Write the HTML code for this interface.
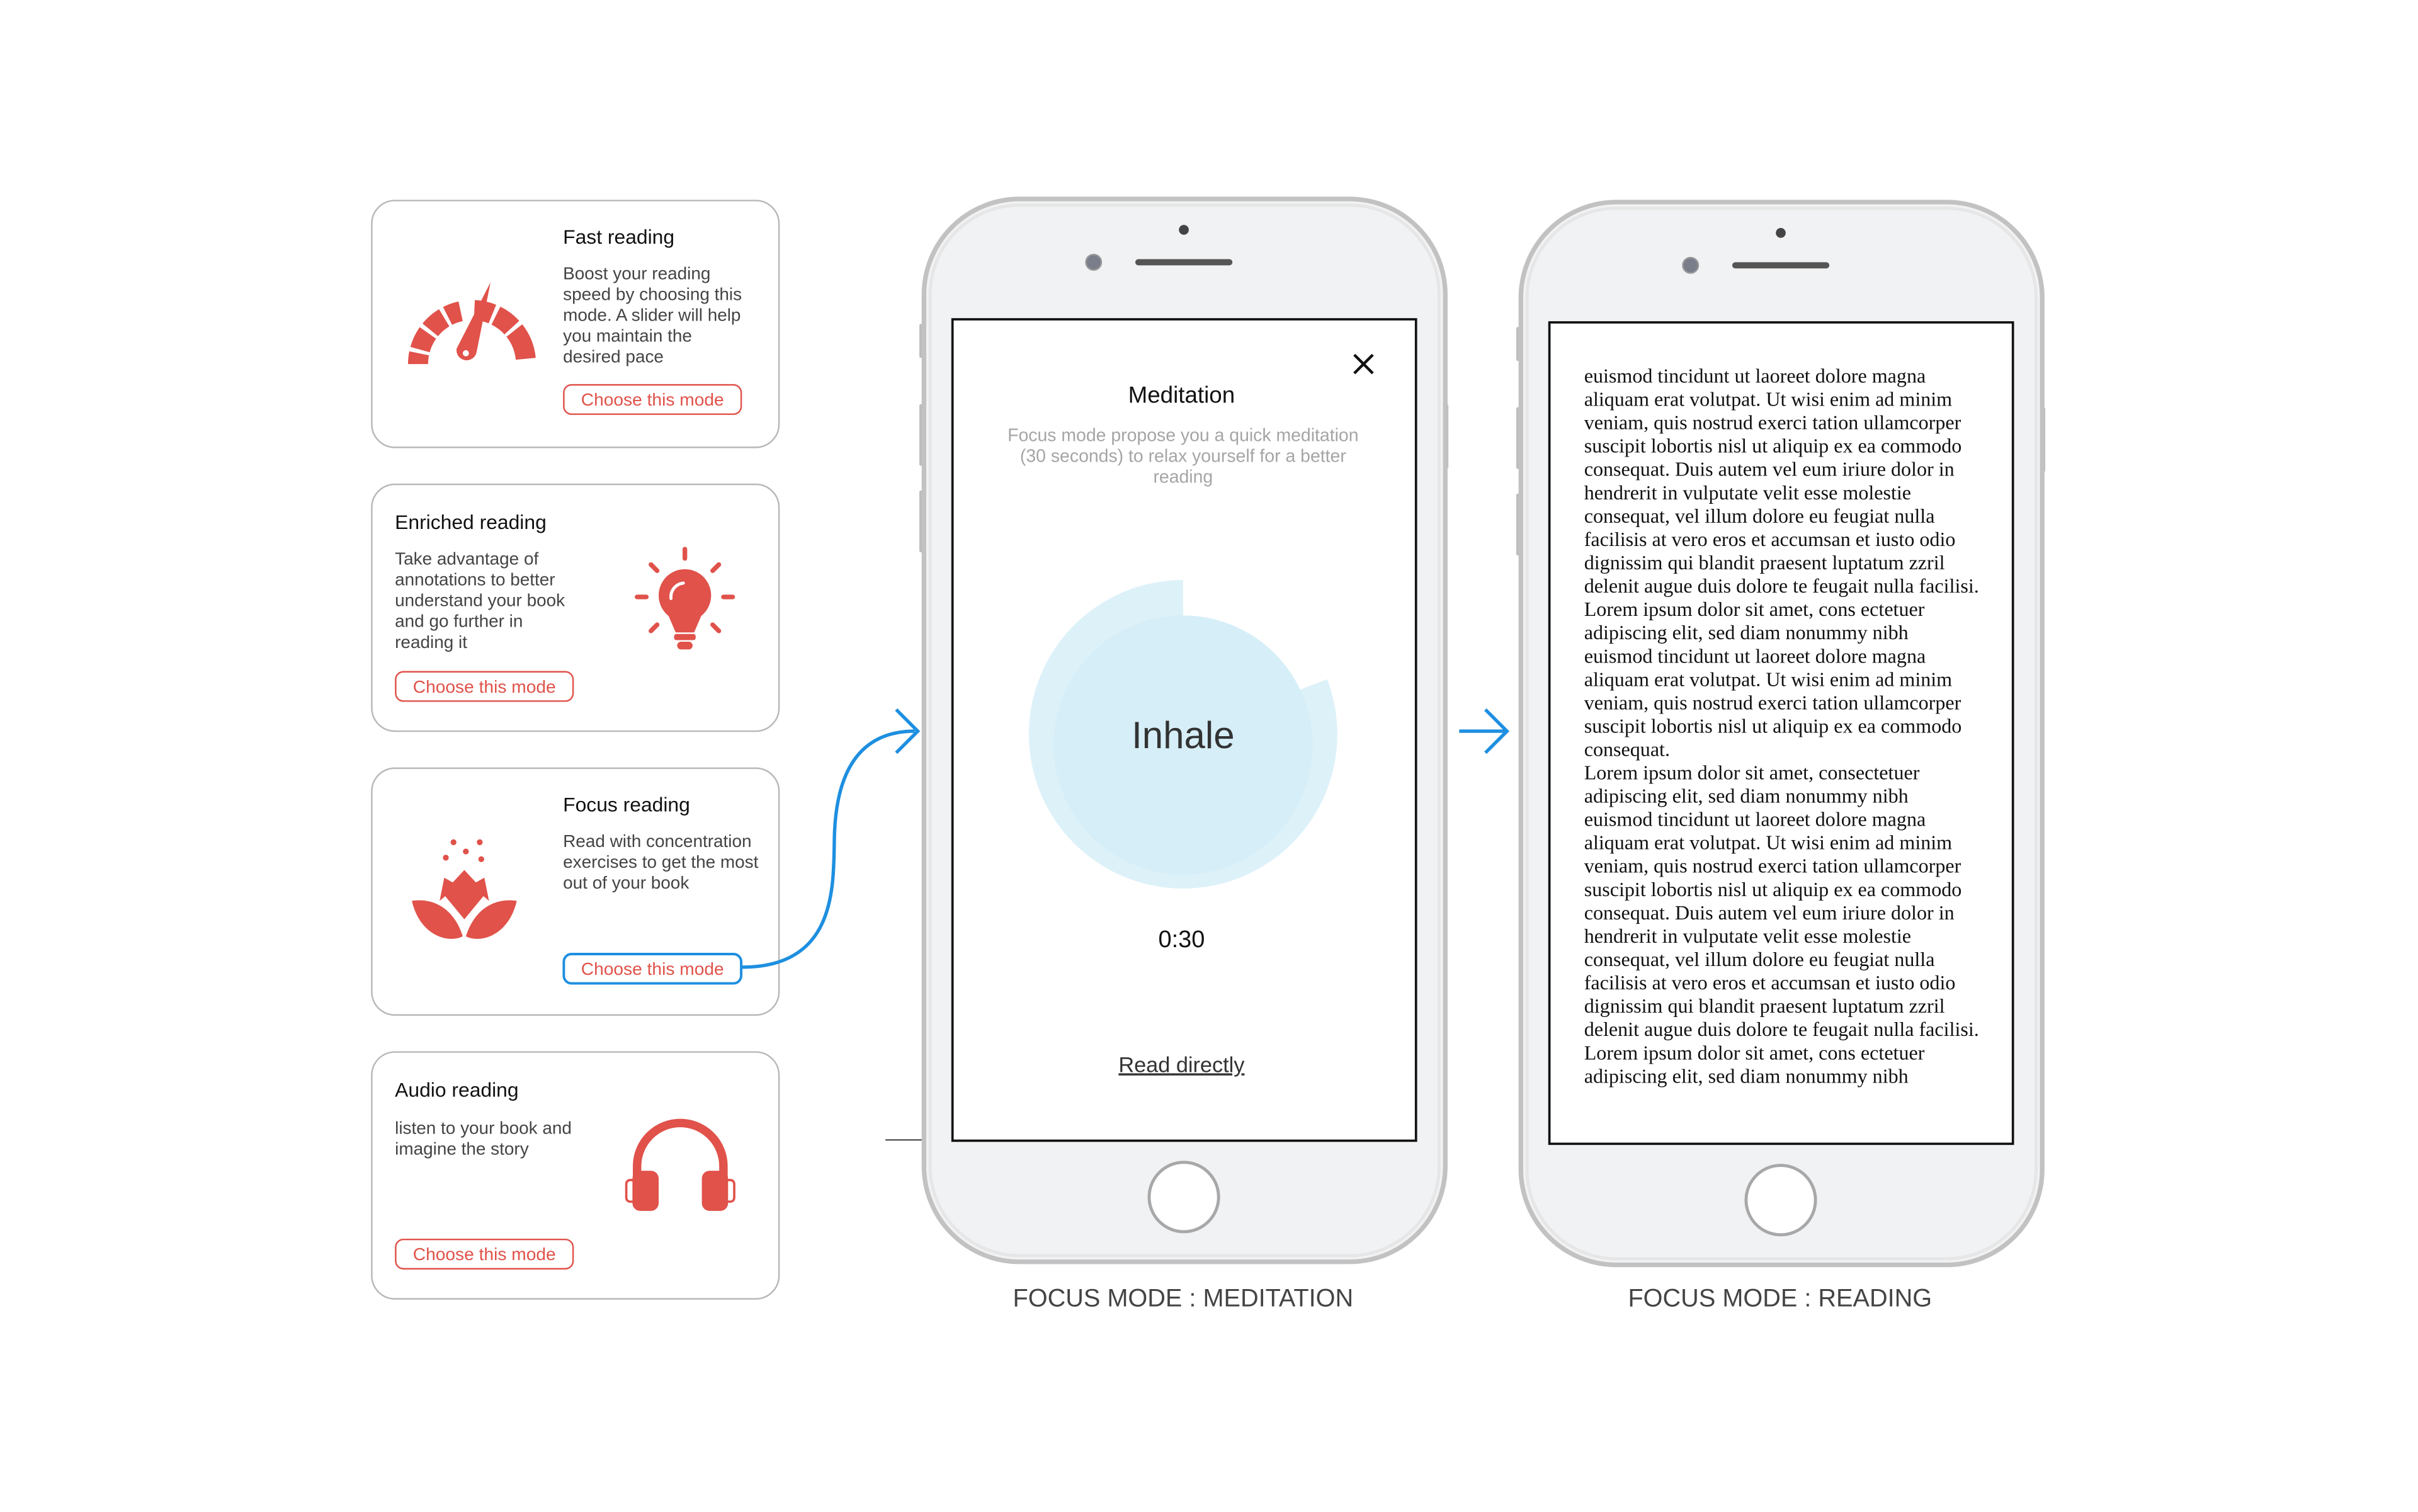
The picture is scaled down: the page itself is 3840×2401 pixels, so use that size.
<!DOCTYPE html>
<html><head><meta charset="utf-8"><style>
html,body{margin:0;padding:0;background:#fff;width:3840px;height:2401px;overflow:hidden}
svg{display:block}
.s{font-family:"Liberation Sans","DejaVu Sans",sans-serif}
.r{font-family:"Liberation Serif","DejaVu Serif",serif}
</style></head><body>
<svg width="3840" height="2401" viewBox="0 0 1567.6 980.2" xmlns="http://www.w3.org/2000/svg">
<rect width="1567.6" height="980.2" fill="#fff"/>
<g fill="#fff" stroke="#b8b8b8" stroke-width="1">
<rect x="241" y="130" width="264" height="160" rx="15"/>
<rect x="241" y="314" width="264" height="160" rx="15"/>
<rect x="241" y="498" width="264" height="160" rx="15"/>
<rect x="241" y="682" width="264" height="160" rx="15"/>
</g>
<g class="s">
<text x="365" y="158" font-size="13" fill="#111">Fast reading</text>
<g font-size="11.4" fill="#444">
<text x="365" y="181">Boost your reading</text>
<text x="365" y="194.5">speed by choosing this</text>
<text x="365" y="208">mode. A slider will help</text>
<text x="365" y="221.5">you maintain the</text>
<text x="365" y="235">desired pace</text></g>
<text x="256" y="343" font-size="13" fill="#111">Enriched reading</text>
<g font-size="11.4" fill="#444">
<text x="256" y="366">Take advantage of</text>
<text x="256" y="379.5">annotations to better</text>
<text x="256" y="393">understand your book</text>
<text x="256" y="406.5">and go further in</text>
<text x="256" y="420">reading it</text></g>
<text x="365" y="526" font-size="13" fill="#111">Focus reading</text>
<g font-size="11.4" fill="#444">
<text x="365" y="549">Read with concentration</text>
<text x="365" y="562.5">exercises to get the most</text>
<text x="365" y="576">out of your book</text></g>
<text x="256" y="711" font-size="13" fill="#111">Audio reading</text>
<g font-size="11.4" fill="#444">
<text x="256" y="735">listen to your book and</text>
<text x="256" y="748.5">imagine the story</text></g>
<g fill="none" stroke-width="1">
<rect x="365.5" y="249.5" width="115" height="19" rx="5" stroke="#e0524a"/>
<rect x="256.5" y="435.5" width="115" height="19" rx="5" stroke="#e0524a"/>
<rect x="365.5" y="618.5" width="115" height="19" rx="5" stroke="#1e8fe0" stroke-width="1.6"/>
<rect x="256.5" y="803.5" width="115" height="19" rx="5" stroke="#e0524a"/>
</g>
<g font-size="11.5" fill="#e0524a" text-anchor="middle">
<text x="423" y="263">Choose this mode</text>
<text x="314" y="449">Choose this mode</text>
<text x="423" y="632">Choose this mode</text>
<text x="314" y="817">Choose this mode</text></g>
</g>
<!-- gauge -->
<g fill="#e0524a">
<path d="M271 236 A35 35 0 0 1 341 236" fill="none" stroke="#e0524a" stroke-width="13" stroke-dasharray="7 2.5 12 2.5 12 2.5 9 9 12 2.5 13 2.5 20"/>
<path d="M318 183 L309 228 A6.5 6.5 0 1 1 296 226 Z"/>
<circle cx="302" cy="229" r="2" fill="#fff"/>
</g>
<!-- bulb -->
<g fill="#e0524a" stroke="#e0524a" stroke-linecap="round">
<circle cx="444" cy="386" r="17" stroke="none"/>
<path d="M432 396 L438 410 L450 410 L456 396 Z" stroke="none"/>
<rect x="437" y="411" width="14" height="4" rx="1.5" stroke="none"/>
<rect x="439" y="416" width="10" height="5" rx="2.5" stroke="none"/>
<g stroke-width="3" fill="none">
<line x1="444" y1="356" x2="444" y2="362"/>
<line x1="422" y1="366" x2="426" y2="370"/><line x1="466" y1="366" x2="462" y2="370"/>
<line x1="413" y1="387" x2="419" y2="387"/><line x1="469" y1="387" x2="475" y2="387"/>
<line x1="422" y1="409" x2="426" y2="405"/><line x1="466" y1="409" x2="462" y2="405"/>
</g>
<path d="M435 388 A9 9 0 0 1 443 378" stroke="#fff" stroke-width="2" fill="none"/>
</g>
<!-- lotus -->
<g fill="#e0524a">
<circle cx="294" cy="546" r="1.9"/><circle cx="311" cy="546" r="1.9"/><circle cx="302" cy="552" r="1.9"/>
<circle cx="289" cy="556" r="1.9"/><circle cx="312" cy="557" r="1.9"/>
<path d="M287 579 L301 564 L315 579 L301 596 Z"/>
<path d="M285 584 L288 569 L297 574 Z"/><path d="M317 584 L314 569 L305 574 Z"/>
<path d="M267 584 C280 582 294 588 300 607 C290 612 272 606 267 584 Z"/>
<path d="M335 584 C322 582 308 588 302 607 C312 612 330 606 335 584 Z"/>
</g>
<!-- headphones -->
<g fill="#e0524a">
<path d="M413 768 L413 756 A28 28 0 0 1 469 756 L469 768" fill="none" stroke="#e0524a" stroke-width="5.5"/>
<rect x="410" y="759" width="17" height="26" rx="5"/>
<rect x="455" y="759" width="17" height="26" rx="5"/>
<rect x="406" y="765" width="6" height="14" rx="2.5" fill="none" stroke="#e0524a" stroke-width="1.5"/>
<rect x="470" y="765" width="6" height="14" rx="2.5" fill="none" stroke="#e0524a" stroke-width="1.5"/>
</g>
<path d="M481 627 C545 627 540 570 541 540 C543 490 565 474 593 474" fill="none" stroke="#1e8fe0" stroke-width="2.2"/>
<path d="M581 460 L595 474 L581 488" fill="none" stroke="#1e8fe0" stroke-width="2.2"/>
<line x1="574" y1="739" x2="600" y2="739" stroke="#333" stroke-width="0.8"/>
<line x1="946" y1="474" x2="976" y2="474" stroke="#1e8fe0" stroke-width="2.2"/>
<path d="M963 460 L977 474 L963 488" fill="none" stroke="#1e8fe0" stroke-width="2.2"/>
<g>
<g fill="#bdbdbd">
<rect x="596" y="210" width="3" height="22" rx="1"/><rect x="596" y="262" width="3" height="40" rx="1"/><rect x="596" y="318" width="3" height="40" rx="1"/>
<rect x="936" y="262" width="3" height="42" rx="1"/>
<rect x="983" y="212" width="3" height="22" rx="1"/><rect x="983" y="264" width="3" height="40" rx="1"/><rect x="983" y="320" width="3" height="40" rx="1"/>
<rect x="1323" y="264" width="3" height="42" rx="1"/>
</g>
<rect x="599" y="129" width="338" height="689" rx="62" fill="#f1f2f4" stroke="#c2c2c2" stroke-width="3"/>
<rect x="603" y="133" width="330" height="681" rx="58" fill="none" stroke="#e6e6e6" stroke-width="2"/>
<rect x="986" y="131" width="338" height="689" rx="62" fill="#f1f2f4" stroke="#c2c2c2" stroke-width="3"/>
<rect x="990" y="135" width="330" height="681" rx="58" fill="none" stroke="#e6e6e6" stroke-width="2"/>
<circle cx="767.5" cy="149" r="3.2" fill="#444"/>
<rect x="736" y="168" width="63" height="4" rx="2" fill="#555"/>
<circle cx="709" cy="170" r="5" fill="#7a7d8a" stroke="#999" stroke-width="1"/>
<circle cx="1154.5" cy="151" r="3.2" fill="#444"/>
<rect x="1123" y="170" width="63" height="4" rx="2" fill="#555"/>
<circle cx="1096" cy="172" r="5" fill="#7a7d8a" stroke="#999" stroke-width="1"/>
<circle cx="767.5" cy="776" r="22.5" fill="#fff" stroke="#a8a8a8" stroke-width="2"/>
<circle cx="1154.5" cy="778" r="22.5" fill="#fff" stroke="#a8a8a8" stroke-width="2"/>
<rect x="617.5" y="207" width="300.5" height="532.5" fill="#fff" stroke="#111" stroke-width="1.5"/>
<rect x="1004.5" y="209" width="300.5" height="532.5" fill="#fff" stroke="#111" stroke-width="1.5"/>
</g>
<g class="s">
<path d="M878 230 L890 242 M890 230 L878 242" stroke="#111" stroke-width="1.8"/>
<text x="766" y="261" font-size="15" text-anchor="middle" fill="#111">Meditation</text>
<g font-size="11.6" fill="#a5a5a5" text-anchor="middle">
<text x="767" y="286">Focus mode propose you a quick meditation</text>
<text x="767" y="299.5">(30 seconds) to relax yourself for a better</text>
<text x="767" y="313">reading</text></g>
<circle cx="767" cy="476" r="100" fill="#ddf1f9"/>
<path d="M767 476 L767 370 L885 370 L885 431 Z" fill="#fff"/>
<circle cx="767" cy="483" r="84" fill="#d6eef7"/>
<text x="767" y="485" font-size="24.5" text-anchor="middle" fill="#333">Inhale</text>
<text x="766" y="614" font-size="15.5" text-anchor="middle" fill="#111">0:30</text>
<text x="766" y="695" font-size="14" text-anchor="middle" fill="#333" text-decoration="underline">Read directly</text>
<text x="767" y="847" font-size="16.2" text-anchor="middle" fill="#444">FOCUS MODE : MEDITATION</text>
<text x="1154" y="847" font-size="16.2" text-anchor="middle" fill="#444">FOCUS MODE : READING</text>
</g>
<g class="r" font-size="13.1" fill="#111">
<text x="1027" y="248">euismod tincidunt ut laoreet dolore magna</text>
<text x="1027" y="263.1">aliquam erat volutpat. Ut wisi enim ad minim</text>
<text x="1027" y="278.3">veniam, quis nostrud exerci tation ullamcorper</text>
<text x="1027" y="293.4">suscipit lobortis nisl ut aliquip ex ea commodo</text>
<text x="1027" y="308.5">consequat. Duis autem vel eum iriure dolor in</text>
<text x="1027" y="323.7">hendrerit in vulputate velit esse molestie</text>
<text x="1027" y="338.8">consequat, vel illum dolore eu feugiat nulla</text>
<text x="1027" y="353.9">facilisis at vero eros et accumsan et iusto odio</text>
<text x="1027" y="369">dignissim qui blandit praesent luptatum zzril</text>
<text x="1027" y="384.2">delenit augue duis dolore te feugait nulla facilisi.</text>
<text x="1027" y="399.3">Lorem ipsum dolor sit amet, cons ectetuer</text>
<text x="1027" y="414.4">adipiscing elit, sed diam nonummy nibh</text>
<text x="1027" y="429.6">euismod tincidunt ut laoreet dolore magna</text>
<text x="1027" y="444.7">aliquam erat volutpat. Ut wisi enim ad minim</text>
<text x="1027" y="459.8">veniam, quis nostrud exerci tation ullamcorper</text>
<text x="1027" y="475">suscipit lobortis nisl ut aliquip ex ea commodo</text>
<text x="1027" y="490.1">consequat.</text>
<text x="1027" y="505.2">Lorem ipsum dolor sit amet, consectetuer</text>
<text x="1027" y="520.3">adipiscing elit, sed diam nonummy nibh</text>
<text x="1027" y="535.5">euismod tincidunt ut laoreet dolore magna</text>
<text x="1027" y="550.6">aliquam erat volutpat. Ut wisi enim ad minim</text>
<text x="1027" y="565.7">veniam, quis nostrud exerci tation ullamcorper</text>
<text x="1027" y="580.9">suscipit lobortis nisl ut aliquip ex ea commodo</text>
<text x="1027" y="596">consequat. Duis autem vel eum iriure dolor in</text>
<text x="1027" y="611.1">hendrerit in vulputate velit esse molestie</text>
<text x="1027" y="626.2">consequat, vel illum dolore eu feugiat nulla</text>
<text x="1027" y="641.4">facilisis at vero eros et accumsan et iusto odio</text>
<text x="1027" y="656.5">dignissim qui blandit praesent luptatum zzril</text>
<text x="1027" y="671.6">delenit augue duis dolore te feugait nulla facilisi.</text>
<text x="1027" y="686.8">Lorem ipsum dolor sit amet, cons ectetuer</text>
<text x="1027" y="701.9">adipiscing elit, sed diam nonummy nibh</text>
</g>
</svg>
</body></html>
